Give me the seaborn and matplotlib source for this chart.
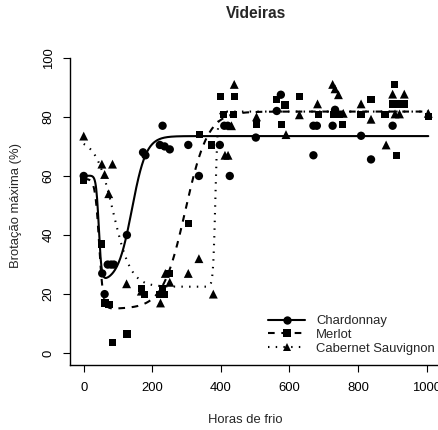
import numpy as np
import pandas as pd
import matplotlib
matplotlib.use("Agg")
import matplotlib.pyplot as plt
from matplotlib.lines import Line2D
import seaborn as sns

# ---------------- data ----------------
chard_x = [0, 54, 61, 70, 80, 88, 126, 173, 180, 222, 230, 236, 251, 305, 336, 397,
           410, 420, 426, 502, 563, 575, 670, 680, 670, 726, 733, 809, 838, 901]
chard_y = [60, 27, 20, 30, 30, 30, 40, 68, 67, 70.5, 77, 70, 69, 70.5, 60, 70.5,
           77, 77, 60, 73, 82, 87.5, 77, 77, 67, 77, 82.4, 73.6, 65.6, 77]

merlot_x = [0, 52, 62, 74, 83, 126, 168, 178, 222, 230, 236, 251, 305, 337, 373, 400,
            407, 436, 439, 504, 563, 587, 577, 629, 684, 728, 745, 754, 809, 838, 879,
            901, 918, 935, 906, 913, 1005]
merlot_y = [58.5, 37, 17, 16.5, 3.5, 6.5, 22, 20, 20, 22, 20, 27, 44, 74, 70.5, 87,
            80.7, 80.7, 87, 77.3, 85.8, 84, 77.3, 87, 80.7, 80.7, 80.7, 77.3, 80.7, 85.8, 80.7,
            84.4, 84.4, 84.4, 91, 67, 80]

cab_x = [0, 53, 84, 61, 73, 125, 168, 224, 238, 251, 305, 336, 378, 412, 421, 431, 439,
         504, 590, 629, 682, 726, 733, 743, 757, 809, 838, 882, 901, 935, 908, 921, 1005]
cab_y = [73.5, 64, 64, 60.5, 54, 23.5, 21, 17, 27, 24, 27, 32, 20, 67, 67, 77, 91,
         80, 74, 80.7, 84.4, 91, 89.5, 87.5, 81.2, 84.4, 79.2, 70.5, 87.7, 87.7, 81, 81, 81.2]

cultivars = ["Chardonnay", "Merlot", "Cabernet Sauvignon"]

# fitted-curve parameters (start, drop, drop centre, drop rate, rise, rise centre, rise rate)
chard_fit = [60, 36, 44, 0.25, 49.5, 140.6, 0.048]
merlot_fit = [59, 44, 45, 0.17, 66.8, 296.6, 0.0303]
cab_fit = [72.5, 50, 86.6, 0.039, 59.3, 384, 0.3]


def curve(x, p):
    a, d, c1, k1, r, c2, k2 = p
    return a - d / (1 + np.exp(-k1 * (x - c1))) + r / (1 + np.exp(-k2 * (x - c2)))


pts = pd.DataFrame({
    "x": chard_x + merlot_x + cab_x,
    "y": chard_y + merlot_y + cab_y,
    "cv": [cultivars[0]] * len(chard_x) + [cultivars[1]] * len(merlot_x) + [cultivars[2]] * len(cab_x),
})

xs = np.linspace(0, 1005, 800)
fits = pd.DataFrame({
    "x": np.concatenate([xs, xs, xs]),
    "y": np.concatenate([curve(xs, chard_fit), curve(xs, merlot_fit), curve(xs, cab_fit)]),
    "cv": [cultivars[0]] * len(xs) + [cultivars[1]] * len(xs) + [cultivars[2]] * len(xs),
})

# ---------------- plot ----------------
sns.set_style("ticks")
plt.rcParams["font.family"] = ["Liberation Sans", "DejaVu Sans"]

fs = 9.4
fig = plt.figure(figsize=(4.39, 4.30), dpi=100)
W, H = 439, 430
ax = fig.add_axes([70 / W, 1 - 365 / H, 372 / W, 319 / H])

lw = 1.5
styles = {
    cultivars[0]: "-",
    cultivars[1]: (0, (3.2, 3.2)),
    cultivars[2]: (0, (0.7, 3.0)),
}
markers = {cultivars[0]: "o", cultivars[1]: "s", cultivars[2]: "^"}
msize = {cultivars[0]: 6.0, cultivars[1]: 5.2, cultivars[2]: 6.4}

for cv in cultivars:
    sub = fits[fits.cv == cv]
    sns.lineplot(data=sub, x="x", y="y", ax=ax, color="black", lw=lw,
                 linestyle=styles[cv], estimator=None, sort=False)
    sp = pts[pts.cv == cv]
    sns.scatterplot(data=sp, x="x", y="y", ax=ax, color="black", marker=markers[cv],
                    s=msize[cv] ** 2, edgecolor="none", linewidth=0)

ax.set_xlim(-40, 1045)
ax.set_ylim(-4, 104)
ax.set_xticks([0, 200, 400, 600, 800, 1000])
ax.set_yticks([0, 20, 40, 60, 80, 100])
ax.set_xlabel("")
ax.set_ylabel("")
for s in ["top", "right"]:
    ax.spines[s].set_visible(False)
ax.spines["left"].set_bounds(-4, 100)
for s in ["left", "bottom"]:
    ax.spines[s].set_linewidth(1.0)
    ax.spines[s].set_color("black")
ax.tick_params(axis="both", direction="out", length=5, width=0.8, colors="black",
               labelsize=fs)
ax.tick_params(axis="x", pad=7)
ax.tick_params(axis="y", pad=6)
plt.setp(ax.get_yticklabels(), rotation=90, va="center")

handles = [Line2D([0], [0], color="black", lw=lw, linestyle=styles[cv], marker=markers[cv],
                  markersize=msize[cv], markeredgewidth=0) for cv in cultivars]
ax.legend(handles, cultivars, loc="upper left", bbox_to_anchor=(268 / W, 1 - 315 / H),
          bbox_transform=fig.transFigure, borderpad=0, borderaxespad=0,
          frameon=False, fontsize=fs, handlelength=2.85, labelspacing=0.13,
          handletextpad=0.85)

fig.text(256 / W, 1 - 13 / H, "Videiras", ha="center", va="center",
         fontsize=11.2, fontweight="bold")
fig.text(245 / W, 1 - 420 / H, "Horas de frio", ha="center", va="center", fontsize=fs)
fig.text(16 / W, 1 - 205 / H, "Brotação máxima (%)", ha="center", va="center",
         rotation=90, fontsize=fs)

fig.savefig("out.png", dpi=100)
